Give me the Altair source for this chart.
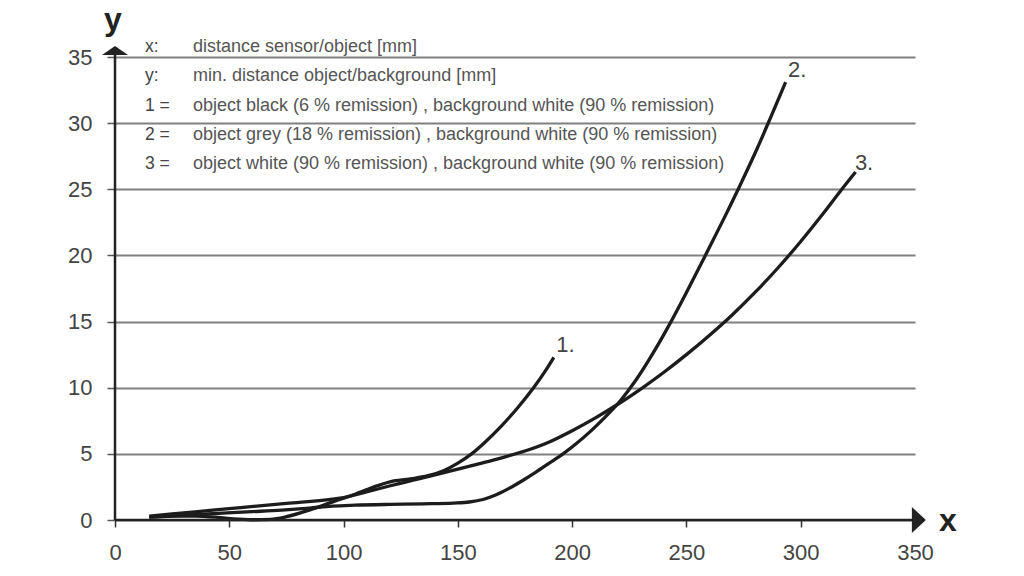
import altair as alt
import pandas as pd

# ---- data ----
c1_x = [15, 25, 35, 45, 52, 60, 68, 75, 85, 95, 105, 115, 122, 130, 137, 144, 150, 156, 162, 169, 176, 182.7, 188, 192]
c1_y = [0.25, 0.3, 0.3, 0.2, 0.08, 0.02, 0.05, 0.25, 0.75, 1.35, 1.95, 2.6, 2.95, 3.12, 3.35, 3.75, 4.3, 5.0, 5.9, 7.1, 8.45, 9.9, 11.2, 12.3]

c2_x = [15, 25, 35, 45, 60, 73, 85, 95, 105, 120, 135, 148, 155, 161, 166, 172, 178, 184, 190, 196, 202, 208, 214, 221, 228, 235, 242, 250, 258, 266, 274, 281, 287, 293.4]
c2_y = [0.2, 0.3, 0.4, 0.5, 0.63, 0.75, 0.9, 1.05, 1.12, 1.18, 1.22, 1.28, 1.36, 1.55, 1.85, 2.35, 2.95, 3.6, 4.3, 5.0, 5.8, 6.7, 7.7, 9.0, 10.6, 12.5, 14.6, 17.2, 19.9, 22.65, 25.5, 28.1, 30.5, 33.1]

c3_x = [15, 35, 55, 75, 95, 100, 110, 120, 130, 140, 150, 160, 170, 180, 190, 200, 210, 220, 230, 240, 250, 260, 270, 280, 290, 300, 310, 318, 324]
c3_y = [0.3, 0.62, 0.94, 1.26, 1.58, 1.7, 2.12, 2.57, 2.99, 3.41, 3.84, 4.28, 4.74, 5.25, 5.9, 6.75, 7.7, 8.75, 9.9, 11.15, 12.5, 13.95, 15.5, 17.2, 19.05, 21.05, 23.2, 25.0, 26.3]

curve_names = ["1.", "2.", "3."]
label_x = [193, 294.4, 323.7]
label_y = [13.2, 34.0, 27.0]

legend_prefix = ["x:", "y:", "1 =", "2 =", "3 ="]
legend_text = [
    "distance sensor/object [mm]",
    "min. distance object/background [mm]",
    "object black (6 % remission) , background white (90 % remission)",
    "object grey (18 % remission) , background white (90 % remission)",
    "object white (90 % remission) , background white (90 % remission)",
]
legend_y = [35.75, 33.56, 31.29, 29.1, 26.9]

x_ticks = [0, 50, 100, 150, 200, 250, 300, 350]
y_ticks = [0, 5, 10, 15, 20, 25, 30, 35]

FONT = "Liberation Sans"
INK = "#1c1c1c"

rows = []
for name, xs_, ys_ in zip(curve_names, [c1_x, c2_x, c3_x], [c1_y, c2_y, c3_y]):
    for i, (a, b) in enumerate(zip(xs_, ys_)):
        rows.append({"curve": name, "x": a, "y": b, "o": i})
curves_df = pd.DataFrame(rows)

xs = alt.Scale(domain=[0, 350], nice=False, zero=False)
ys = alt.Scale(domain=[0, 35], nice=False, zero=False)

x_axis = alt.Axis(values=x_ticks, title=None, domain=False, grid=False, tickSize=7,
                  tickColor="#333", tickWidth=1.5, labelFont=FONT, labelFontSize=22,
                  labelColor="#444", labelPadding=15, labelFlush=False)
y_axis = alt.Axis(values=y_ticks, title=None, domain=False, grid=True, gridColor="#808080",
                  gridWidth=2, tickSize=8, tickColor="#555", tickWidth=1.5,
                  labelFont=FONT, labelFontSize=22, labelColor="#444", labelPadding=15,
                  labelFlush=False)

lines = alt.Chart(curves_df).mark_line(color=INK, strokeWidth=3.3, interpolate="monotone").encode(
    x=alt.X("x:Q", scale=xs, axis=x_axis),
    y=alt.Y("y:Q", scale=ys, axis=y_axis),
    detail="curve:N",
    order="o:Q",
)

axis_df = pd.DataFrame({"x": [0, 0], "y": [0, 0], "x2": [0, 350], "y2": [35.4, 0]})
axis_lines = alt.Chart(axis_df).mark_rule(color="#222", strokeWidth=2.5).encode(
    x=alt.X("x:Q", scale=xs), y=alt.Y("y:Q", scale=ys), x2="x2:Q", y2="y2:Q")

up_df = pd.DataFrame({"x": [0], "y": [35.49]})
up_arrow = alt.Chart(up_df).mark_point(shape="M0,-0.35 L1,0.35 L-1,0.35 Z", filled=True,
                                        size=676, color="#222", opacity=1).encode(
    x=alt.X("x:Q", scale=xs), y=alt.Y("y:Q", scale=ys))
right_df = pd.DataFrame({"x": [351.7], "y": [0]})
right_arrow = alt.Chart(right_df).mark_point(shape="M-0.54,-1 L0.54,0 L-0.54,1 Z", filled=True,
                                              size=676, color="#222", opacity=1).encode(
    x=alt.X("x:Q", scale=xs), y=alt.Y("y:Q", scale=ys))

ax_lab_df = pd.DataFrame({"x": [-0.9, 364.4], "y": [37.8, -0.1], "t": ["y", "x"]})
ax_labels = alt.Chart(ax_lab_df).mark_text(font=FONT, fontSize=32, fontWeight="bold",
                                           color="#222", baseline="middle", align="center").encode(
    x=alt.X("x:Q", scale=xs), y=alt.Y("y:Q", scale=ys), text="t:N")

leg_df = pd.DataFrame({"p": legend_prefix, "t": legend_text, "y": legend_y})
leg_prefix = alt.Chart(leg_df).mark_text(font=FONT, fontSize=17.5, color="#444", align="left",
                                         baseline="middle").encode(
    x=alt.value(30), y=alt.Y("y:Q", scale=ys), text="p:N")
leg_text = alt.Chart(leg_df).mark_text(font=FONT, fontSize=18, color="#555", align="left",
                                       baseline="middle").encode(
    x=alt.value(78), y=alt.Y("y:Q", scale=ys), text="t:N")

lab_df = pd.DataFrame({"x": label_x, "y": label_y, "t": curve_names})
curve_labels = alt.Chart(lab_df).mark_text(font=FONT, fontSize=22, color="#444", align="left",
                                           baseline="middle").encode(
    x=alt.X("x:Q", scale=xs), y=alt.Y("y:Q", scale=ys), text="t:N")

chart = alt.layer(lines, axis_lines, up_arrow, right_arrow, ax_labels, leg_prefix, leg_text,
                  curve_labels).properties(
    width=800, height=463,
    autosize=alt.AutoSizeParams(type="none"),
    padding={"left": 115, "top": 57, "right": 109, "bottom": 56},
    background="white",
).configure_view(stroke=None)

chart.save("out.html", embed_options={"renderer": "svg", "actions": False})
